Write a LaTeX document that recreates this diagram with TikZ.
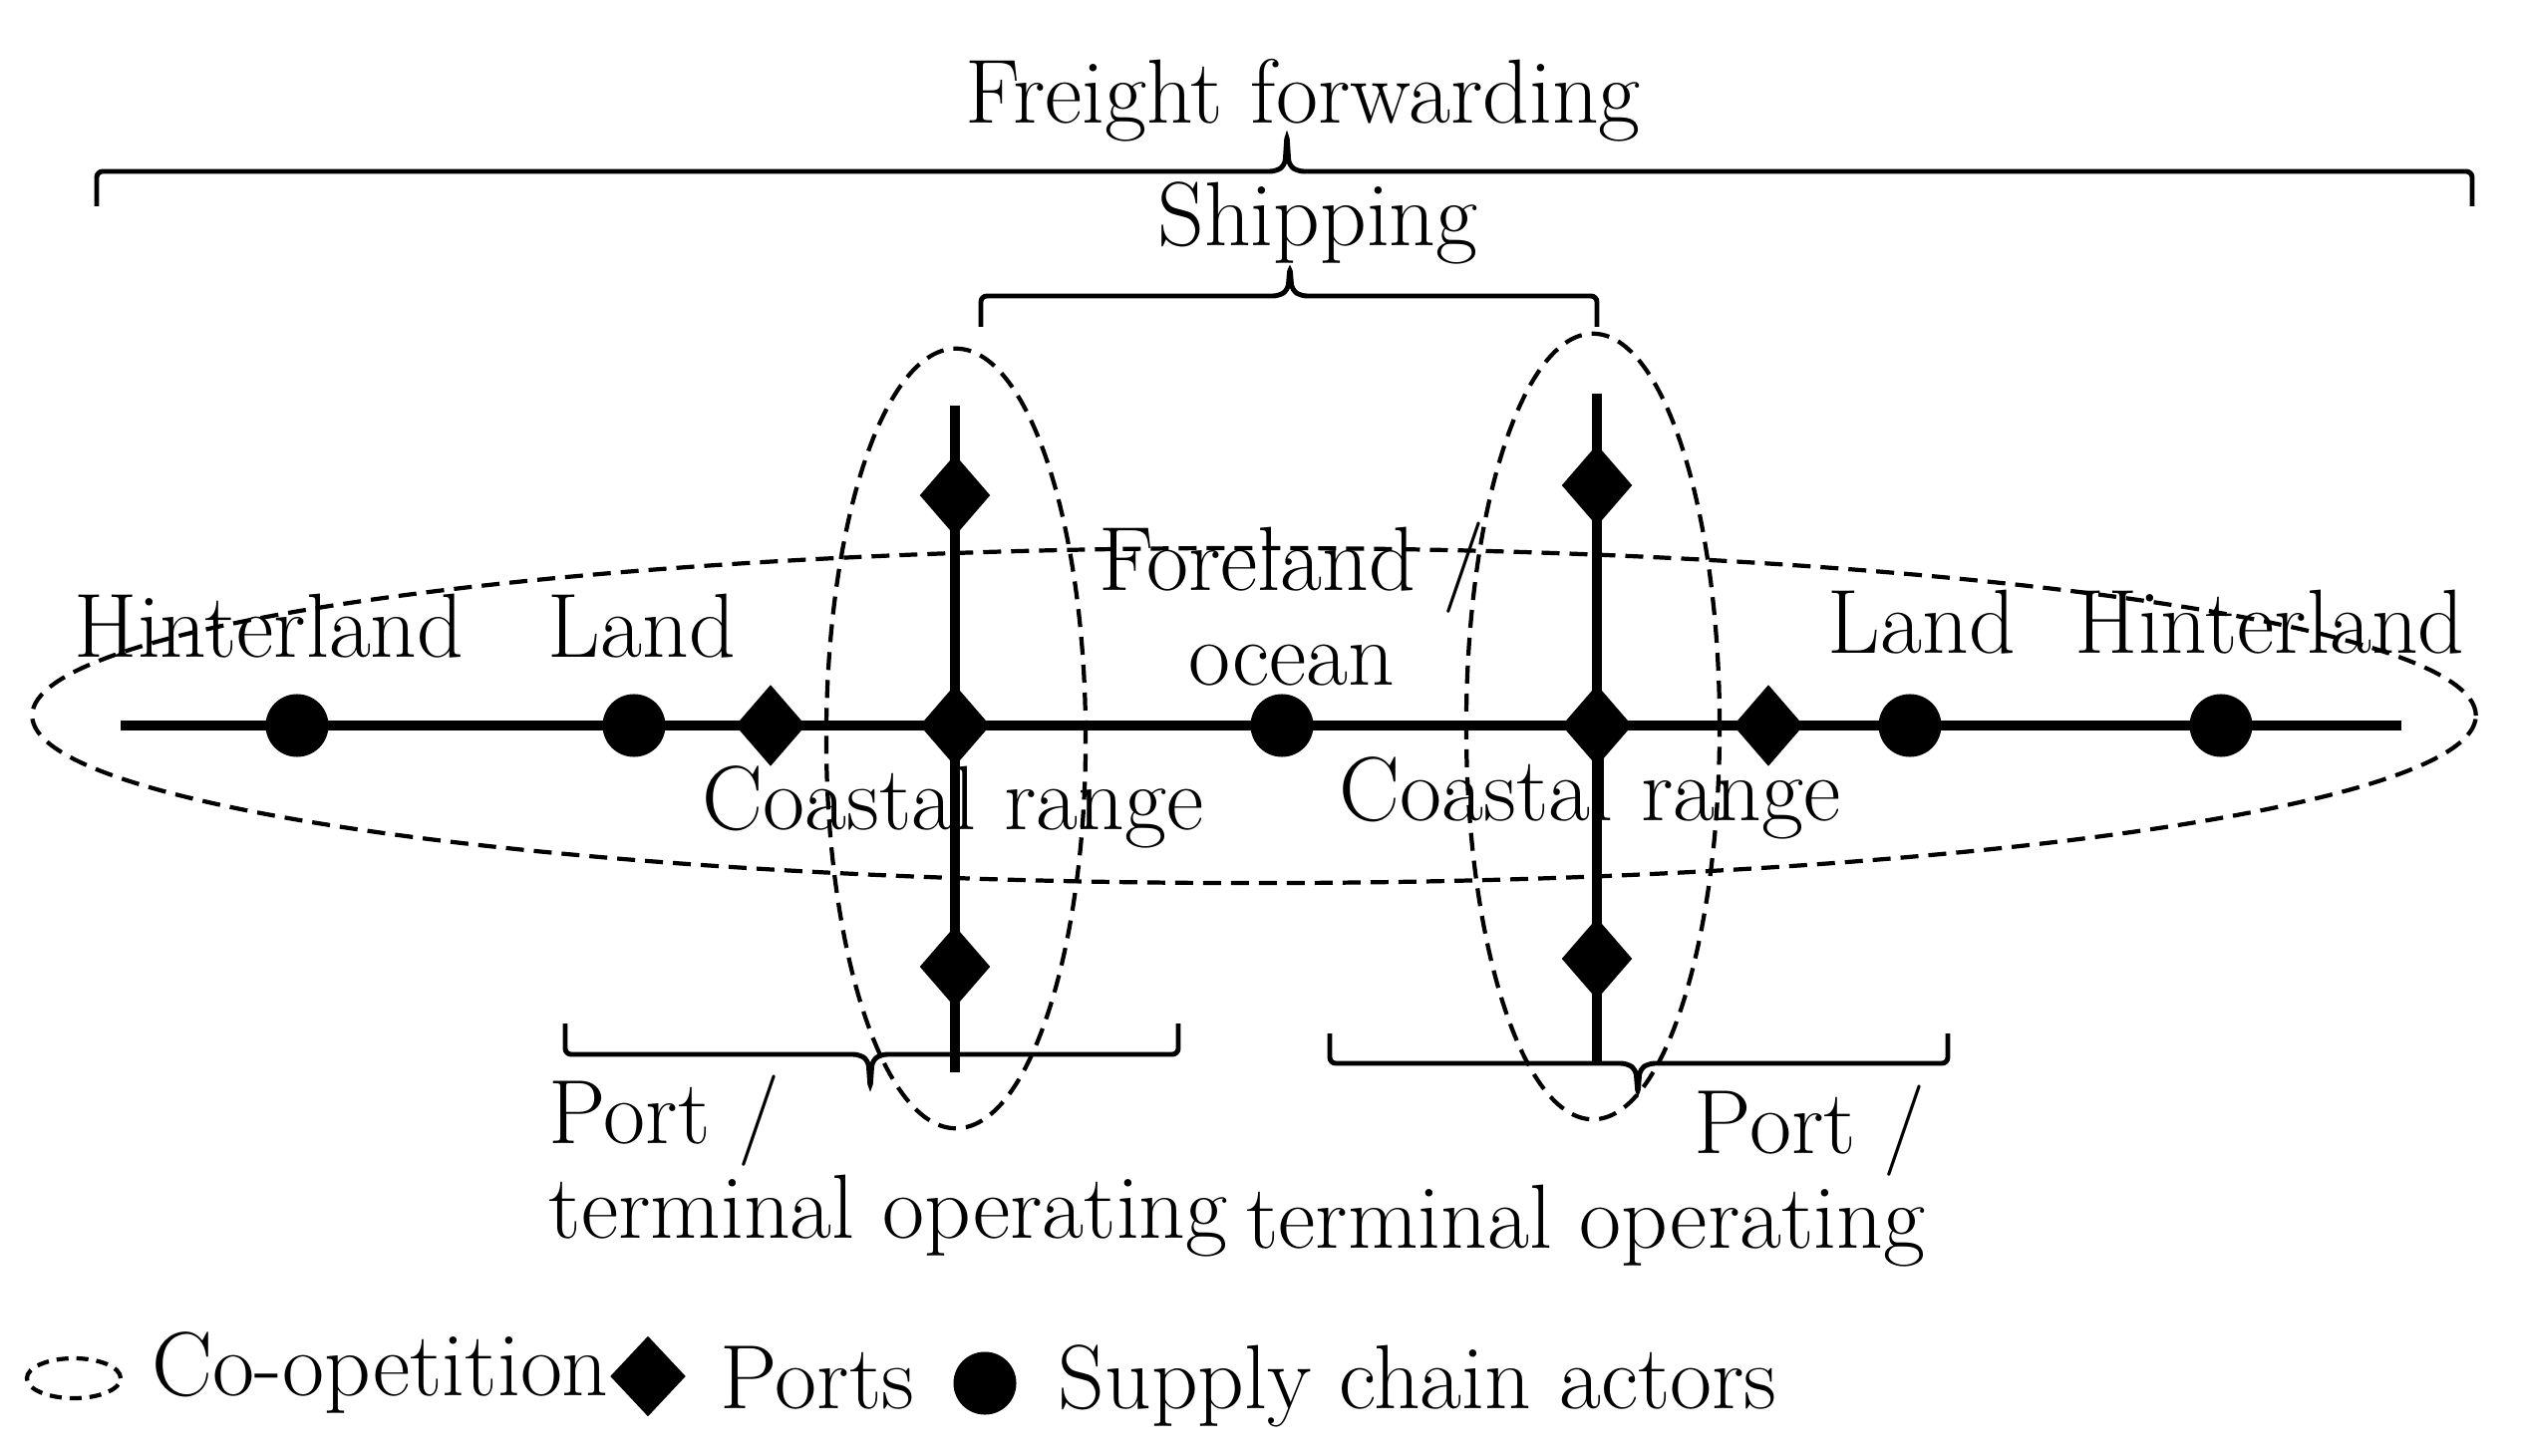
\documentclass[tikz,border=0pt]{standalone}
\usetikzlibrary{shapes.geometric}

\begin{document}
\begin{tikzpicture}[
		x=0.01cm, y=-0.01cm,
		txt/.style={font=\fontsize{26}{26.9}\selectfont, inner sep=0pt},
		actor/.style={circle, fill, inner sep=0pt, minimum size=0.63cm},
		port/.style={diamond, fill, inner sep=0pt, minimum width=0.71cm, minimum height=0.82cm},
		route/.style={line width=2.8pt},
		coop/.style={ellipse, draw, dash pattern=on 0.18cm off 0.1cm, line width=1.2pt, inner sep=0pt},
		bracket/.style={line width=1.4pt, rounded corners=0.06cm},
	]
		\useasboundingbox (0,0) rectangle (2530,1461);

		% co-opetition areas
		\node at (1258,718) (range) [coop, minimum width=24.5cm, minimum height=3.36cm] {};
		\node at (959,741) (coopL) [coop, minimum width=2.6cm, minimum height=7.82cm] {};
		\node at (1598,729) (coopR) [coop, minimum width=2.54cm, minimum height=7.88cm] {};

		% routes
		\coordinate (west) at (121,728);
		\coordinate (east) at (2409,728);
		\coordinate (northL) at (958,407);
		\coordinate (southL) at (958,1076);
		\coordinate (northR) at (1602,395);
		\coordinate (southR) at (1602,1067);
		\draw[route] (west) -- (east);
		\draw[route] (northL) -- (southL);
		\draw[route] (northR) -- (southR);

		\node at (298,728) (hinterW) [actor] {};
		\node at (636,728) (landW) [actor] {};
		\node at (1286,728) (ocean) [actor] {};
		\node at (1916,728) (landE) [actor] {};
		\node at (2228,728) (hinterE) [actor] {};

		\node at (773,728) (portW) [port] {};
		\node at (958,728) (hubL) [port] {};
		\node at (958,497) (upL) [port] {};
		\node at (958,970) (downL) [port] {};
		\node at (1602,728) (hubR) [port] {};
		\node at (1602,487) (upR) [port] {};
		\node at (1602,962) (downR) [port] {};
		\node at (1774,728) (portE) [port] {};

		% braces
		\draw[bracket] (97,207) -- (97,172) -- (1280,172) -- (1289,166) -- (1291,135)
			-- (1293,166) -- (1302,172) -- (2480,172) -- (2480,207);
		\draw[bracket] (984,328) -- (984,297) -- (1283,297) -- (1292,291) -- (1294,268)
			-- (1296,291) -- (1305,297) -- (1602,297) -- (1602,328);
		\draw[bracket] (567,1027) -- (567,1058) -- (862,1058) -- (871,1064) -- (873,1092)
			-- (875,1064) -- (884,1058) -- (1182,1058) -- (1182,1027);
		\draw[bracket] (1334,1037) -- (1334,1067) -- (1632,1067) -- (1641,1073) -- (1643,1098)
			-- (1645,1073) -- (1654,1067) -- (1954,1067) -- (1954,1037);

		% labels
		\node at (1307,124) (freight) [txt, anchor=base] {Freight forwarding};
		\node at (1322,247) (shipping) [txt, anchor=base] {Shipping};
		\node at (270,659) (hinterWlab) [txt, anchor=base] {Hinterland};
		\node at (644,659) (landWlab) [txt, anchor=base] {Land};
		\node at (1296,687) (forelab) [txt, anchor=base, align=center] {Foreland /\\ocean};
		\node at (956,832) (coastLlab) [txt, anchor=base] {Coastal range};
		\node at (1595,823) (coastRlab) [txt, anchor=base] {Coastal range};
		\node at (1928,656) (landElab) [txt, anchor=base] {Land};
		\node at (2277,656) (hinterElab) [txt, anchor=base] {Hinterland};
		\node at (550,1242) (termLlab) [txt, anchor=base west, align=left] {Port /\\terminal operating};
		\node at (1932,1252) (termRlab) [txt, anchor=base east, align=right] {Port /\\terminal operating};

		% legend
		\node at (74,1383) (keyCoop) [coop, minimum width=0.94cm, minimum height=0.4cm, dash pattern=on 0.12cm off 0.08cm] {};
		\node at (152,1400) (keyCooplab) [txt, anchor=base west] {Co-opetition};
		\node at (650,1381) (keyPort) [port, minimum width=0.76cm, minimum height=0.81cm] {};
		\node at (722,1413) (keyPortlab) [txt, anchor=base west] {Ports};
		\node at (988,1388) (keyActor) [actor] {};
		\node at (1061,1413) (keyActorlab) [txt, anchor=base west] {Supply chain actors};
	\end{tikzpicture}
\end{document}
